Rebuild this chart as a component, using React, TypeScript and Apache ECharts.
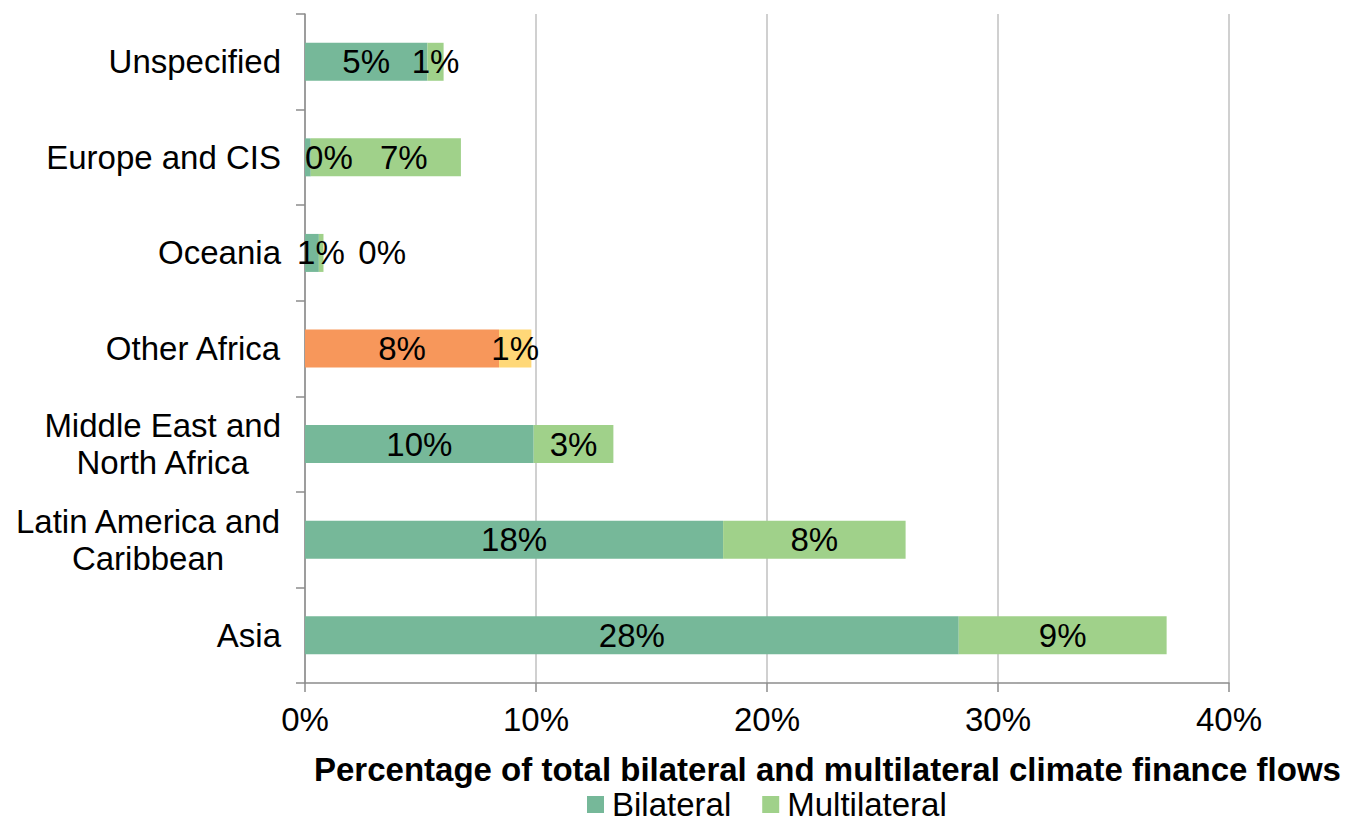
import React, { useEffect, useRef } from "react";
import * as echarts from "echarts";

const categories = [
  "Asia",
  "Latin America and\nCaribbean",
  "Middle East and\nNorth Africa",
  "Other Africa",
  "Oceania",
  "Europe and CIS",
  "Unspecified",
];
const bilateral = [28.3, 18.1, 9.9, 8.4, 0.6, 0.25, 5.3];
const multilateral = [9.0, 7.9, 3.45, 1.4, 0.2, 6.5, 0.7];
const xTicks = [0, 10, 20, 30, 40];
const axisTitle = "Percentage of total bilateral and multilateral climate finance flows";

const FONT = "'Liberation Sans', Arial, Helvetica, sans-serif";
const FS = 33;
const GREEN = "#76B899";
const LIGHT = "#A0D18A";
const ORANGE = "#F7975B";
const YELLOW = "#FFD878";

// label shifts for crowded small segments (Excel-like placement)
const bilateralShift: Record<string, number> = { Oceania: 9, "Europe and CIS": 21 };
const multilateralShift: Record<string, number> = { Oceania: 61, "Europe and CIS": 18 };

export default function App() {
  const ref = useRef<HTMLDivElement>(null);
  useEffect(() => {
    if (!ref.current) return;
    const chart = echarts.init(ref.current, undefined, { renderer: "svg" });
    const mk = (vals: number[], shift: Record<string, number>, special: string) =>
      vals.map((v, i) => {
        const cat = categories[i];
        const item: any = { value: v };
        if (shift[cat] !== undefined) item.label = { offset: [shift[cat], 0] };
        if (cat === "Other Africa") item.itemStyle = { color: special };
        return item;
      });
    const labelCfg = {
      show: true,
      position: "inside",
      color: "#000",
      fontSize: FS,
      fontFamily: FONT,
      formatter: (p: any) => `${Math.round(p.value)}%`,
    };
    chart.setOption({
      animation: false,
      grid: { left: 305, right: 116, top: 14, bottom: 142, containLabel: false },
      title: {
        text: axisTitle,
        left: 314,
        top: 753,
        padding: 0,
        textStyle: { fontSize: FS, fontWeight: "bold", color: "#000", fontFamily: FONT },
      },
      legend: {
        data: ["Bilateral", "Multilateral"],
        left: 587,
        top: 788,
        icon: "rect",
        itemWidth: 17,
        itemHeight: 17,
        itemGap: 31,
        padding: 0,
        textStyle: { fontSize: FS, color: "#000", fontFamily: FONT, padding: [0, 0, 0, 3] },
      },
      xAxis: {
        type: "value",
        min: xTicks[0],
        max: xTicks[xTicks.length - 1],
        interval: 10,
        axisLine: { show: true, lineStyle: { color: "#8C8C8C", width: 1.5 } },
        axisTick: { show: true, length: 9, lineStyle: { color: "#8C8C8C", width: 1.5 } },
        splitLine: { show: true, lineStyle: { color: "#C0C0C0", width: 1.5 } },
        axisLabel: {
          formatter: "{value}%",
          fontSize: FS,
          color: "#000",
          fontFamily: FONT,
          margin: 20,
        },
      },
      yAxis: {
        type: "category",
        data: categories,
        axisLine: { show: true, lineStyle: { color: "#8C8C8C", width: 1.5 } },
        axisTick: { show: true, length: 9, alignWithLabel: false, lineStyle: { color: "#8C8C8C", width: 1.5 } },
        axisLabel: {
          margin: 24,
          color: "#000",
          fontSize: FS,
          fontFamily: FONT,
          lineHeight: 37,
          formatter: (v: string) =>
            v
              .split("\n")
              .map((l) => `{c|${l}}`)
              .join("\n"),
          rich: {
            c: { align: "center", fontSize: FS, fontFamily: FONT, color: "#000", lineHeight: 37 },
          },
        },
      },
      series: [
        {
          name: "Bilateral",
          type: "bar",
          stack: "total",
          barWidth: 38,
          itemStyle: { color: GREEN },
          label: labelCfg,
          data: mk(bilateral, bilateralShift, ORANGE),
        },
        {
          name: "Multilateral",
          type: "bar",
          stack: "total",
          barWidth: 38,
          itemStyle: { color: LIGHT },
          label: labelCfg,
          data: mk(multilateral, multilateralShift, YELLOW),
        },
      ],
    });
    return () => chart.dispose();
  }, []);
  return (
    <div
      ref={ref}
      style={{ position: "fixed", left: 0, top: 0, width: 1345, height: 825, background: "#fff" }}
    />
  );
}
